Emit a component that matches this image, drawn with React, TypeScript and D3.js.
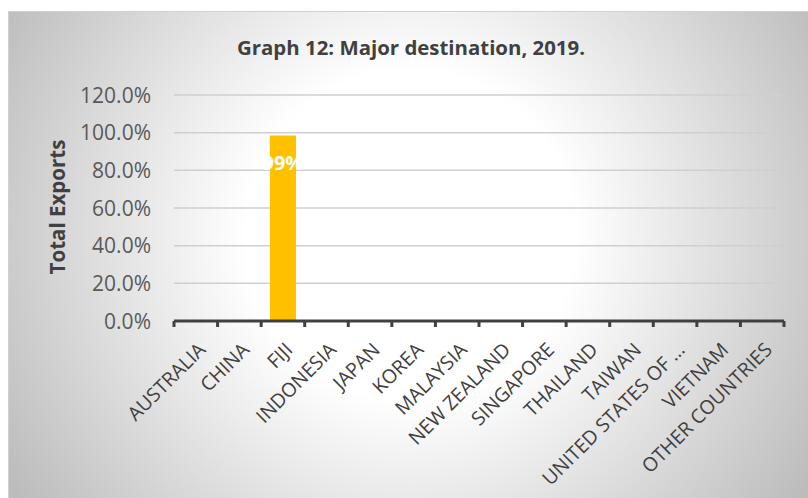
import React from "react";
import * as d3 from "d3";

const categories = [
  "AUSTRALIA", "CHINA", "FIJI", "INDONESIA", "JAPAN", "KOREA", "MALAYSIA",
  "NEW ZEALAND", "SINGAPORE", "THAILAND", "TAIWAN", "UNITED STATES OF …",
  "VIETNAM", "OTHER COUNTRIES",
];
const values = [0, 0, 0.985, 0, 0, 0, 0, 0, 0, 0, 0, 0, 0, 0];
const dataLabels = ["", "", "99%", "", "", "", "", "", "", "", "", "", "", ""];
const yTicks = [0, 0.2, 0.4, 0.6, 0.8, 1.0, 1.2];
const title = "Graph 12: Major destination, 2019.";
const yTitle = "Total Exports";

const W = 808, H = 498;
const plot = { left: 174, right: 784, top: 95, bottom: 321 };

export default function App() {
  const xb = d3.scaleBand<string>().domain(categories).range([plot.left, plot.right]);
  const y = d3.scaleLinear().domain([0, 1.2]).range([plot.bottom, plot.top]);
  const fmt = d3.format(".1%");
  const font = "Open Sans, sans-serif";
  const tickXs = d3.range(categories.length + 1).map((i) => plot.left + i * xb.step());
  return (
    <svg width={W} height={H} style={{ position: "absolute", left: 0, top: 0 }}>
      <defs>
        <radialGradient id="bg" gradientUnits="userSpaceOnUse" cx={410} cy={235} r={470}>
          <stop offset="0%" stopColor="#ffffff" />
          <stop offset="35%" stopColor="#ffffff" />
          <stop offset="100%" stopColor="#bcbcbc" />
        </radialGradient>
      </defs>
      <rect x={0} y={0} width={W} height={H} fill="#ffffff" />
      <rect x={8.5} y={11.5} width={W - 8} height={H - 11} fill="url(#bg)" stroke="#d0d0d0" strokeWidth={1} />
      <text x={411} y={55} textAnchor="middle" fontFamily={font} fontWeight="bold" fontSize={19.5} fill="#404040" textLength={348} lengthAdjust="spacingAndGlyphs">{title}</text>
      {yTicks.map((t) => (
        <g key={t}>
          {t > 0 && <line x1={plot.left} x2={plot.right} y1={y(t)} y2={y(t)} stroke="#cfcfcf" strokeWidth={1.5} />}
          <text x={151} y={y(t)} dy="0.36em" textAnchor="end" fontFamily={font} fontSize={21} fill="#595959">{fmt(t)}</text>
        </g>
      ))}
      <text transform={`translate(65,${(plot.top + plot.bottom) / 2 - 1}) rotate(-90)`} textAnchor="middle" fontFamily={font} fontWeight="bold" fontSize={20.5} fill="#404040">{yTitle}</text>
      {categories.map((c, i) => (
        <g key={c}>
          {values[i] > 0 && (
            <rect x={(xb(c) as number) + xb.bandwidth() * 0.2} y={y(values[i])} width={xb.bandwidth() * 0.6} height={plot.bottom - y(values[i])} fill="#ffc000" />
          )}
          {dataLabels[i] && (
            <text x={(xb(c) as number) + xb.bandwidth() / 2} y={y(values[i]) + 35} textAnchor="middle" fontFamily={font} fontWeight="bold" fontSize={20} fill="#ffffff">{dataLabels[i]}</text>
          )}
          <text transform={`translate(${(xb(c) as number) + xb.bandwidth() / 2 + 11},${plot.bottom + 30}) rotate(-45)`} textAnchor="end" fontFamily={font} fontSize={19.5} fill="#404040">{c}</text>
        </g>
      ))}
      <line x1={plot.left} x2={plot.right} y1={plot.bottom} y2={plot.bottom} stroke="#404040" strokeWidth={3} />
      {tickXs.map((tx, i) => (
        <line key={i} x1={tx} x2={tx} y1={plot.bottom} y2={plot.bottom + 6} stroke="#404040" strokeWidth={3} />
      ))}
    </svg>
  );
}
